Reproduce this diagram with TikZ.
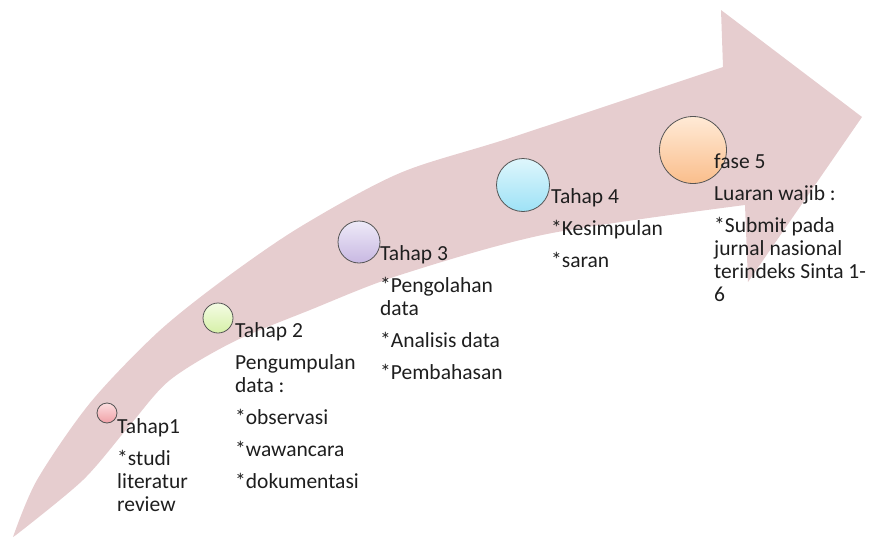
\documentclass[tikz,border=0pt]{standalone}
\usepackage{fontspec}
\setmainfont{Carlito}
\definecolor{arrowpink}{RGB}{230,205,207}
\definecolor{ringgray}{RGB}{85,85,85}
\definecolor{txtgray}{RGB}{30,30,30}
\tikzset{
  stage/.style={circle, draw=ringgray, line width=0.8pt, inner sep=0pt},
  txt/.style={anchor=base west, align=left, inner sep=0pt, text=txtgray,
    font=\fontsize{21.5}{23}\selectfont}
}
\begin{document}
\begin{tikzpicture}[x=1pt,y=-1pt]
\useasboundingbox (0,0) rectangle (870,538);
\fill[arrowpink]
  plot[smooth] coordinates {(13,537) (37,480) (90,403) (157,333) (223,280) (300,227) (400,173) (513,137) (723,67)}
  -- (721,10) -- (862,117) -- (748,282)
  -- plot[smooth] coordinates {(745,205) (547,234) (400,275) (310,310) (233,342) (170,380) (130,425) (83,480) (16,535)}
  -- cycle;
\node[stage, minimum size=20pt, top color={rgb,255:red,252;green,222;blue,224}, bottom color={rgb,255:red,240;green,160;blue,166}] (c1) at (107,413) {};
\node[stage, minimum size=30pt, top color={rgb,255:red,244;green,252;blue,228}, bottom color={rgb,255:red,214;green,240;blue,168}] (c2) at (218,318) {};
\node[stage, minimum size=42pt, top color={rgb,255:red,238;green,234;blue,248}, bottom color={rgb,255:red,200;green,184;blue,226}] (c3) at (359,242) {};
\node[stage, minimum size=53pt, top color={rgb,255:red,222;green,246;blue,252}, bottom color={rgb,255:red,158;green,226;blue,246}] (c4) at (523,185) {};
\node[stage, minimum size=67pt, top color={rgb,255:red,255;green,234;blue,214}, bottom color={rgb,255:red,250;green,190;blue,140}] (c5) at (693,150) {};
% base anchor of a multi-line node = baseline of its last line
\node[txt] (t1) at (117,511) {Tahap1\\[9pt]*studi\\literatur\\review};
\node[txt] (t2) at (235,488) {Tahap 2\\[9pt]Pengumpulan\\data :\\[9pt]*observasi\\[9pt]*wawancara\\[9pt]*dokumentasi};
\node[txt] (t3) at (380,379) {Tahap 3\\[9pt]*Pengolahan\\data\\[9pt]*Analisis data\\[9pt]*Pembahasan};
\node[txt] (t4) at (551,267) {Tahap 4\\[9pt]*Kesimpulan\\[9pt]*saran};
\node[txt] (t5) at (714,301) {fase 5\\[9pt]Luaran wajib :\\[9pt]*Submit pada\\jurnal nasional\\terindeks Sinta 1-\\6};
\end{tikzpicture}
\end{document}
